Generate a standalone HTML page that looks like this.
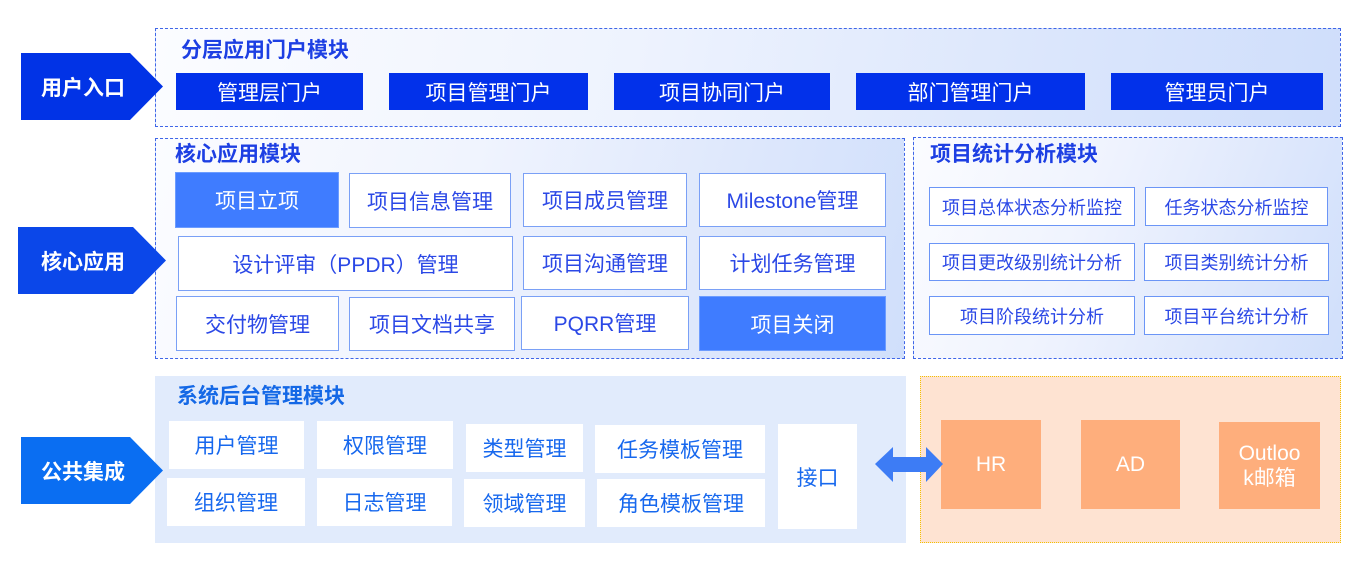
<!DOCTYPE html>
<html><head><meta charset="utf-8"><style>
*{margin:0;padding:0;box-sizing:border-box}
body{width:1368px;height:568px;background:#fff;position:relative;overflow:hidden;font-family:"Liberation Sans","Noto Sans CJK SC",sans-serif}
.a{position:absolute}
.c{position:absolute;display:flex;align-items:center;justify-content:center;text-align:center}
.pent{position:absolute;color:#fff;font-weight:bold;font-size:21px;display:flex;align-items:center;z-index:5}
.pent span{display:block}
.dash{position:absolute;border:1px dashed #3f66e8}
.title{position:absolute;font-weight:bold;font-size:21px;color:#1d3fe3;line-height:24px}
.portal{background:#0231ea;color:#fff;font-size:21px}
.cb{background:#fff;border:1.5px solid #7aa0f6;color:#2b48e6;font-size:21px}
.hl{background:#3f7cff;border:1.5px solid #6c9cff;color:#fff;font-size:21px}
.sb{background:#fff;border:1.5px solid #6b95f6;color:#2b48e6;font-size:18px}
.bb{background:#fff;color:#1768ee;font-size:21px}
.ob{background:#feae7c;color:#fff;font-size:21px;line-height:25px}
</style></head><body>

<!-- top box -->
<div class="dash" style="left:155px;top:28px;width:1186px;height:99px;background:linear-gradient(100deg,#fbfcff 0%,#eef3fe 40%,#dbe6fc 75%,#cfdefb 100%)"></div>
<div class="title" style="left:181px;top:39px">分层应用门户模块</div>
<div class="c portal" style="left:176px;top:73px;width:187px;height:37px">管理层门户</div>
<div class="c portal" style="left:389px;top:73px;width:199px;height:37px">项目管理门户</div>
<div class="c portal" style="left:614px;top:73px;width:216px;height:37px">项目协同门户</div>
<div class="c portal" style="left:856px;top:73px;width:229px;height:37px">部门管理门户</div>
<div class="c portal" style="left:1111px;top:73px;width:212px;height:37px">管理员门户</div>

<!-- core box -->
<div class="dash" style="left:155px;top:138px;width:750px;height:221px;background:linear-gradient(105deg,#fbfcff 0%,#f0f4fe 40%,#dde7fc 75%,#d0dffb 100%)"></div>
<div class="title" style="left:175px;top:143px">核心应用模块</div>
<div class="c hl" style="left:175px;top:172px;width:164px;height:56px">项目立项</div>
<div class="c cb" style="left:349px;top:173px;width:162px;height:55px">项目信息管理</div>
<div class="c cb" style="left:523px;top:173px;width:164px;height:54px">项目成员管理</div>
<div class="c cb" style="left:699px;top:173px;width:187px;height:54px">Milestone管理</div>
<div class="c cb" style="left:178px;top:236px;width:335px;height:55px">设计评审（PPDR）管理</div>
<div class="c cb" style="left:523px;top:236px;width:164px;height:54px">项目沟通管理</div>
<div class="c cb" style="left:699px;top:236px;width:187px;height:54px">计划任务管理</div>
<div class="c cb" style="left:176px;top:296px;width:163px;height:55px">交付物管理</div>
<div class="c cb" style="left:349px;top:297px;width:166px;height:54px">项目文档共享</div>
<div class="c cb" style="left:521px;top:296px;width:168px;height:54px">PQRR管理</div>
<div class="c hl" style="left:699px;top:296px;width:187px;height:55px">项目关闭</div>

<!-- stats box -->
<div class="dash" style="left:913px;top:137px;width:430px;height:222px;background:linear-gradient(110deg,#fbfcff 0%,#eff3fe 40%,#dde7fc 75%,#d0dffb 100%)"></div>
<div class="title" style="left:930px;top:143px">项目统计分析模块</div>
<div class="c sb" style="left:929px;top:187px;width:206px;height:39px">项目总体状态分析监控</div>
<div class="c sb" style="left:1145px;top:187px;width:183px;height:39px">任务状态分析监控</div>
<div class="c sb" style="left:929px;top:243px;width:206px;height:38px">项目更改级别统计分析</div>
<div class="c sb" style="left:1144px;top:243px;width:185px;height:38px">项目类别统计分析</div>
<div class="c sb" style="left:929px;top:296px;width:206px;height:39px">项目阶段统计分析</div>
<div class="c sb" style="left:1144px;top:296px;width:185px;height:39px">项目平台统计分析</div>

<!-- backend box -->
<div class="a" style="left:155px;top:376px;width:751px;height:167px;background:#e1ebfc"></div>
<div class="title" style="left:177px;top:385px;color:#1468e6">系统后台管理模块</div>
<div class="c bb" style="left:169px;top:421px;width:135px;height:48px">用户管理</div>
<div class="c bb" style="left:317px;top:421px;width:136px;height:48px">权限管理</div>
<div class="c bb" style="left:466px;top:424px;width:117px;height:48px">类型管理</div>
<div class="c bb" style="left:595px;top:425px;width:170px;height:48px">任务模板管理</div>
<div class="c bb" style="left:167px;top:478px;width:138px;height:48px">组织管理</div>
<div class="c bb" style="left:317px;top:478px;width:135px;height:48px">日志管理</div>
<div class="c bb" style="left:464px;top:479px;width:121px;height:48px">领域管理</div>
<div class="c bb" style="left:597px;top:479px;width:168px;height:48px">角色模板管理</div>
<div class="c bb" style="left:778px;top:424px;width:79px;height:105px">接口</div>

<!-- orange box -->
<div class="a" style="left:920px;top:376px;width:421px;height:167px;background:#fee3d2;border:1.5px dotted #f4c100"></div>
<div class="c ob" style="left:941px;top:420px;width:100px;height:89px">HR</div>
<div class="c ob" style="left:1081px;top:420px;width:99px;height:89px">AD</div>
<div class="c ob" style="left:1219px;top:422px;width:101px;height:87px">Outloo<br>k邮箱</div>

<!-- double arrow -->
<svg class="a" style="left:870px;top:440px;z-index:6" width="80" height="50">
<polygon points="5,24 23,7 23,17 56,17 56,7 73,24 56,42 56,32 23,32 23,42" fill="#3d7cf5"/>
</svg>

<!-- left pentagons -->
<div class="pent" style="left:21px;top:53px;width:142px;height:67px;background:#0133e6;clip-path:polygon(0 0,109px 0,142px 50%,109px 100%,0 100%)"><span style="width:124px;text-align:center">用户入口</span></div>
<div class="pent" style="left:18px;top:227px;width:148px;height:67px;background:#0b47e9;clip-path:polygon(0 0,115px 0,148px 50%,115px 100%,0 100%)"><span style="width:130px;text-align:center">核心应用</span></div>
<div class="pent" style="left:21px;top:437px;width:142px;height:67px;background:#0a6ef2;clip-path:polygon(0 0,109px 0,142px 50%,109px 100%,0 100%)"><span style="width:124px;text-align:center">公共集成</span></div>

</body></html>
